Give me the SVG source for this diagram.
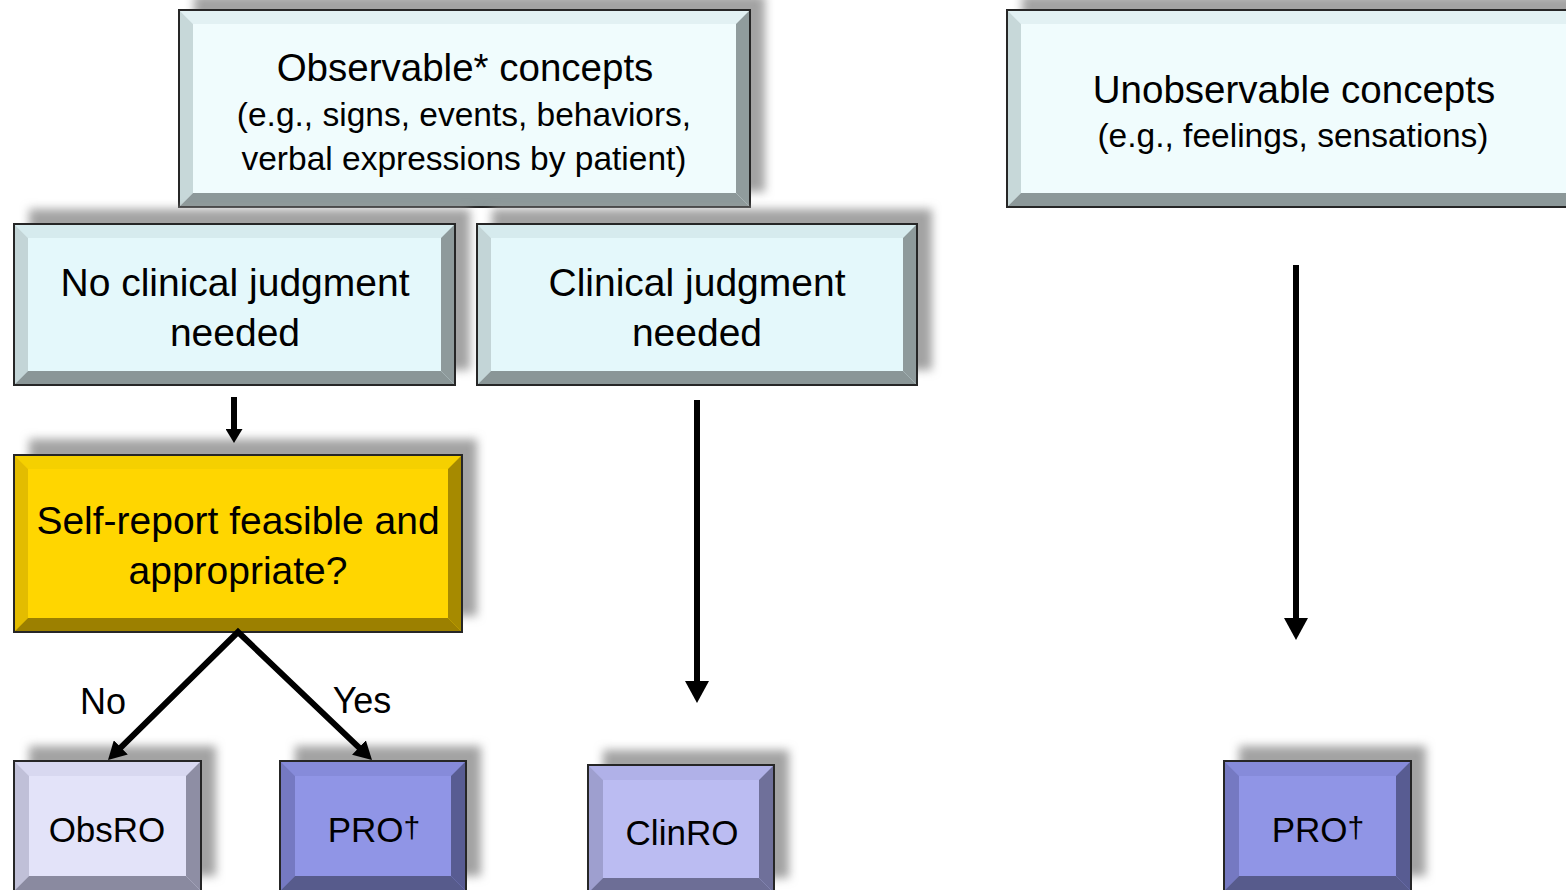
<svg xmlns="http://www.w3.org/2000/svg" width="1566" height="890" viewBox="0 0 1566 890">
<defs>
<filter id="blur" x="-20%" y="-30%" width="140%" height="160%"><feGaussianBlur stdDeviation="5"/></filter>
<marker id="ahL" markerUnits="userSpaceOnUse" markerWidth="24" markerHeight="24" refX="2" refY="12" orient="auto"><path d="M0,0 L22,12 L0,24 z" fill="#000"/></marker>
<marker id="ahM" markerUnits="userSpaceOnUse" markerWidth="20" markerHeight="20" refX="2" refY="10" orient="auto-start-reverse"><path d="M0,0 L18,10 L0,20 z" fill="#000"/></marker>
<marker id="ahS" markerUnits="userSpaceOnUse" markerWidth="17" markerHeight="17" refX="2" refY="8.5" orient="auto"><path d="M0,0 L14,8.5 L0,17 z" fill="#000"/></marker>
</defs>
<style>
.sh{fill:#a3a3a3;filter:url(#blur)}
.ol{fill:none;stroke:#262626;stroke-width:2}
.t{font-family:"Liberation Sans",Arial,sans-serif;fill:#000;text-anchor:middle}
.cy1 .f{fill:#F0FCFD}.cy1 .tp{fill:#E2F1F3}.cy1 .l{fill:#C7D8D9}.cy1 .r{fill:#909C9D}.cy1 .b{fill:#8C9899}
.cy2 .f{fill:#E4F8FB}.cy2 .tp{fill:#D6EBEE}.cy2 .l{fill:#C3D5D7}.cy2 .r{fill:#8E9A9B}.cy2 .b{fill:#8A9697}
.yl .f{fill:#FFD600}.yl .tp{fill:#F5D000}.yl .l{fill:#E3BC00}.yl .r{fill:#A68A00}.yl .b{fill:#9C8000}
.ob .f{fill:#E3E3F9}.ob .tp{fill:#D8D8F0}.ob .l{fill:#C0C0D8}.ob .r{fill:#8E8EA4}.ob .b{fill:#8A8AA0}
.pr .f{fill:#9095E6}.pr .tp{fill:#868BDA}.pr .l{fill:#7579C2}.pr .r{fill:#585C92}.pr .b{fill:#575B8C}
.cl .f{fill:#BBBCF2}.cl .tp{fill:#B0B1E8}.cl .l{fill:#9E9FCF}.cl .r{fill:#6F709A}.cl .b{fill:#6D6E96}
.cn{stroke:#000;fill:none}
</style>
<rect width="1566" height="890" fill="#fff"/>

<g id="observable" class="cy1">
<rect class="sh" x="194" y="-5" width="571" height="197"/>
<rect class="f" x="179" y="10" width="571" height="197"/>
<polygon class="tp" points="179,10 750,10 736,24 193,24"/>
<polygon class="l" points="179,10 193,24 193,193 179,207"/>
<polygon class="r" points="750,10 750,207 736,193 736,24"/>
<polygon class="b" points="179,207 750,207 736,193 193,193"/>
<rect class="ol" x="179" y="10" width="571" height="197"/>
<text class="t" x="465" y="81" font-size="38.5">Observable* concepts</text>
<text class="t" x="464" y="126" font-size="33.5">(e.g., signs, events, behaviors,</text>
<text class="t" x="464" y="170" font-size="33.5">verbal expressions by patient)</text>
</g>

<g id="unobservable" class="cy1">
<rect class="sh" x="1022" y="-5" width="573" height="197"/>
<rect class="f" x="1007" y="10" width="573" height="197"/>
<polygon class="tp" points="1007,10 1580,10 1566,24 1021,24"/>
<polygon class="l" points="1007,10 1021,24 1021,193 1007,207"/>
<polygon class="r" points="1580,10 1580,207 1566,193 1566,24"/>
<polygon class="b" points="1007,207 1580,207 1566,193 1021,193"/>
<rect class="ol" x="1007" y="10" width="573" height="197"/>
<text class="t" x="1294" y="103" font-size="38.5">Unobservable concepts</text>
<text class="t" x="1293" y="147" font-size="33.5">(e.g., feelings, sensations)</text>
</g>

<g id="no-judgment" class="cy2">
<rect class="sh" x="29" y="209" width="441" height="161"/>
<rect class="f" x="14" y="224" width="441" height="161"/>
<polygon class="tp" points="14,224 455,224 441,238 28,238"/>
<polygon class="l" points="14,224 28,238 28,371 14,385"/>
<polygon class="r" points="455,224 455,385 441,371 441,238"/>
<polygon class="b" points="14,385 455,385 441,371 28,371"/>
<rect class="ol" x="14" y="224" width="441" height="161"/>
<text class="t" x="235" y="296" font-size="39">No clinical judgment</text>
<text class="t" x="235" y="346" font-size="39">needed</text>
</g>

<g id="judgment" class="cy2">
<rect class="sh" x="492" y="209" width="440" height="161"/>
<rect class="f" x="477" y="224" width="440" height="161"/>
<polygon class="tp" points="477,224 917,224 903,238 491,238"/>
<polygon class="l" points="477,224 491,238 491,371 477,385"/>
<polygon class="r" points="917,224 917,385 903,371 903,238"/>
<polygon class="b" points="477,385 917,385 903,371 491,371"/>
<rect class="ol" x="477" y="224" width="440" height="161"/>
<text class="t" x="697" y="296" font-size="39">Clinical judgment</text>
<text class="t" x="697" y="346" font-size="39">needed</text>
</g>

<g id="self-report" class="yl">
<rect class="sh" x="29" y="439" width="448" height="177"/>
<rect class="f" x="14" y="455" width="448" height="177"/>
<polygon class="tp" points="14,455 462,455 448,469 28,469"/>
<polygon class="l" points="14,455 28,469 28,618 14,632"/>
<polygon class="r" points="462,455 462,632 448,618 448,469"/>
<polygon class="b" points="14,632 462,632 448,618 28,618"/>
<rect class="ol" x="14" y="455" width="448" height="177"/>
<text class="t" x="238" y="534" font-size="39">Self-report feasible and</text>
<text class="t" x="238" y="584" font-size="39">appropriate?</text>
</g>

<g id="obsro" class="ob">
<rect class="sh" x="29" y="746" width="187" height="130"/>
<rect class="f" x="14" y="761" width="187" height="130"/>
<polygon class="tp" points="14,761 201,761 186,776 29,776"/>
<polygon class="l" points="14,761 29,776 29,876 14,891"/>
<polygon class="r" points="201,761 201,891 186,876 186,776"/>
<polygon class="b" points="14,891 201,891 186,876 29,876"/>
<rect class="ol" x="14" y="761" width="187" height="130"/>
<text class="t" x="107" y="842" font-size="35">ObsRO</text>
</g>

<g id="pro-left" class="pr">
<rect class="sh" x="295" y="746" width="186" height="130"/>
<rect class="f" x="280" y="761" width="186" height="130"/>
<polygon class="tp" points="280,761 466,761 451,776 295,776"/>
<polygon class="l" points="280,761 295,776 295,876 280,891"/>
<polygon class="r" points="466,761 466,891 451,876 451,776"/>
<polygon class="b" points="280,891 466,891 451,876 295,876"/>
<rect class="ol" x="280" y="761" width="186" height="130"/>
<text class="t" x="374" y="842" font-size="35">PRO<tspan font-size="30" dy="-4">†</tspan></text>
</g>

<g id="clinro" class="cl">
<rect class="sh" x="603" y="750" width="186" height="128"/>
<rect class="f" x="588" y="765" width="186" height="128"/>
<polygon class="tp" points="588,765 774,765 759,780 603,780"/>
<polygon class="l" points="588,765 603,780 603,878 588,893"/>
<polygon class="r" points="774,765 774,893 759,878 759,780"/>
<polygon class="b" points="588,893 774,893 759,878 603,878"/>
<rect class="ol" x="588" y="765" width="186" height="128"/>
<text class="t" x="682" y="845" font-size="35">ClinRO</text>
</g>

<g id="pro-right" class="pr">
<rect class="sh" x="1239" y="746" width="187" height="130"/>
<rect class="f" x="1224" y="761" width="187" height="130"/>
<polygon class="tp" points="1224,761 1411,761 1396,776 1239,776"/>
<polygon class="l" points="1224,761 1239,776 1239,876 1224,891"/>
<polygon class="r" points="1411,761 1411,891 1396,876 1396,776"/>
<polygon class="b" points="1224,891 1411,891 1396,876 1239,876"/>
<rect class="ol" x="1224" y="761" width="187" height="130"/>
<text class="t" x="1318" y="842" font-size="35">PRO<tspan font-size="30" dy="-4">†</tspan></text>
</g>

<g id="connectors">
<line class="cn" x1="234" y1="397" x2="234" y2="431" stroke-width="6" marker-end="url(#ahS)"/>
<line class="cn" x1="697" y1="400" x2="697" y2="683" stroke-width="6" marker-end="url(#ahL)"/>
<line class="cn" x1="1296" y1="265" x2="1296" y2="620" stroke-width="6" marker-end="url(#ahL)"/>
<path class="cn" d="M119.4,748.8 L238,632 L360.4,748.9" stroke-width="6" stroke-linejoin="miter" marker-start="url(#ahM)" marker-end="url(#ahM)"/>
<text class="t" x="103" y="714" font-size="36">No</text>
<text class="t" x="362" y="713" font-size="36">Yes</text>
</g>
</svg>
